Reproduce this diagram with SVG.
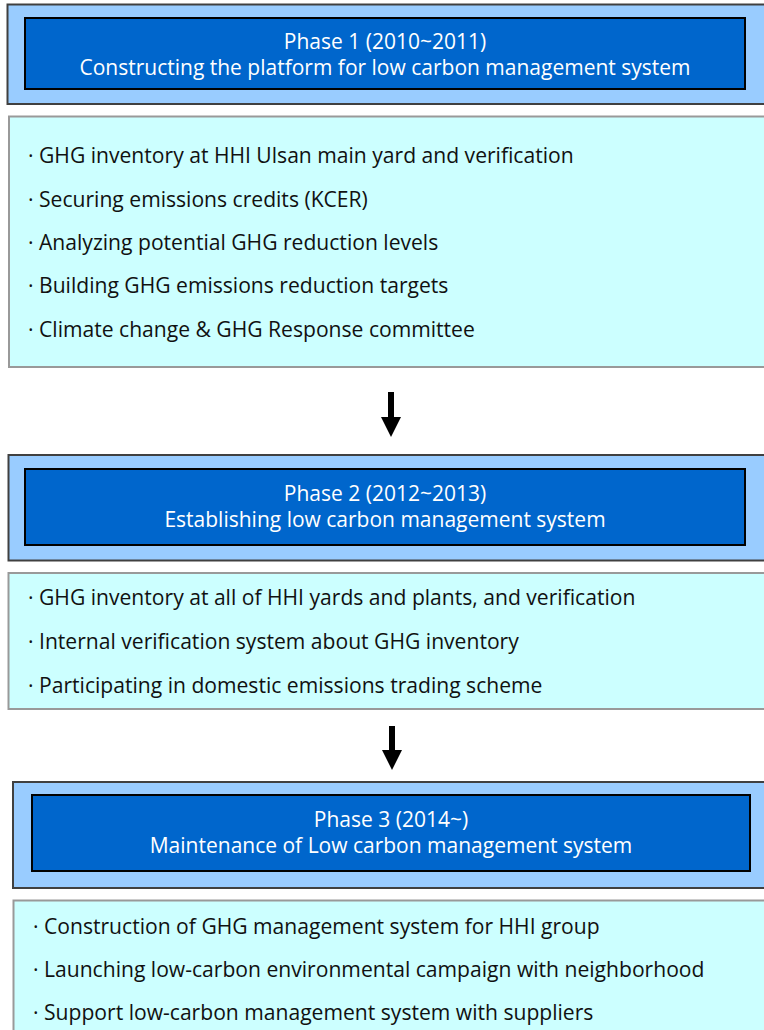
<svg xmlns="http://www.w3.org/2000/svg" width="764" height="1030" viewBox="0 0 764 1030">
<defs>
<style>
.outer{fill:#99CCFF;stroke:#404040;stroke-width:2}
.inner{fill:#0066CC;stroke:#000;stroke-width:2}
.body{fill:#CCFFFF;stroke:#999;stroke-width:2}
.h{font-family:"Open Sans","Noto Sans",sans-serif;font-size:21px;fill:#fff;text-anchor:middle}
.b{font-family:"Open Sans","Noto Sans",sans-serif;font-size:21.1px;fill:#111}
.arrow{stroke:#000;stroke-width:6;fill:none}
</style>
<marker id="ah" viewBox="0 0 20 20" markerWidth="20" markerHeight="20" refX="0" refY="10" orient="auto" markerUnits="userSpaceOnUse">
<path d="M0,0 L20,10 L0,20 Z" fill="#000"/>
</marker>
</defs>
<rect width="764" height="1030" fill="#fff"/>

<g id="phase1">
<rect class="outer" x="7.5" y="4.5" width="770" height="99.5"/>
<rect class="inner" x="25" y="18" width="720" height="71"/>
<text class="h" x="385" y="49">Phase 1 (2010~2011)</text>
<text class="h" x="385" y="75">Constructing the platform for low carbon management system</text>
</g>

<g id="phase1-items">
<rect class="body" x="9" y="116.5" width="770" height="250.5"/>
<text class="b" x="28" y="163">· GHG inventory at HHI Ulsan main yard and verification</text>
<text class="b" x="28" y="206.5">· Securing emissions credits (KCER)</text>
<text class="b" x="28" y="250">· Analyzing potential GHG reduction levels</text>
<text class="b" x="28" y="293.3">· Building GHG emissions reduction targets</text>
<text class="b" x="28" y="336.7">· Climate change &amp; GHG Response committee</text>
</g>

<g id="phase2">
<rect class="outer" x="8.5" y="455" width="770" height="105.5"/>
<rect class="inner" x="25" y="469" width="720" height="76"/>
<text class="h" x="385" y="501">Phase 2 (2012~2013)</text>
<text class="h" x="385" y="527">Establishing low carbon management system</text>
</g>

<g id="phase2-items">
<rect class="body" x="8.5" y="573" width="770" height="136"/>
<text class="b" x="28" y="605">· GHG inventory at all of HHI yards and plants, and verification</text>
<text class="b" x="28" y="649.3">· Internal verification system about GHG inventory</text>
<text class="b" x="28" y="692.7">· Participating in domestic emissions trading scheme</text>
</g>

<g id="phase3">
<rect class="outer" x="13" y="782" width="770" height="106"/>
<rect class="inner" x="32" y="795" width="718" height="76"/>
<text class="h" x="391" y="827">Phase 3 (2014~)</text>
<text class="h" x="391" y="853">Maintenance of Low carbon management system</text>
</g>

<g id="phase3-items">
<rect class="body" x="13.5" y="900.5" width="770" height="140"/>
<text class="b" x="33" y="934">· Construction of GHG management system for HHI group</text>
<text class="b" x="33" y="976.7">· Launching low-carbon environmental campaign with neighborhood</text>
<text class="b" x="33" y="1020">· Support low-carbon management system with suppliers</text>
</g>

<g id="connectors">
<line class="arrow" x1="391" y1="392" x2="391" y2="417" marker-end="url(#ah)"/>
<line class="arrow" x1="392" y1="726" x2="392" y2="750" marker-end="url(#ah)"/>
</g>
</svg>
